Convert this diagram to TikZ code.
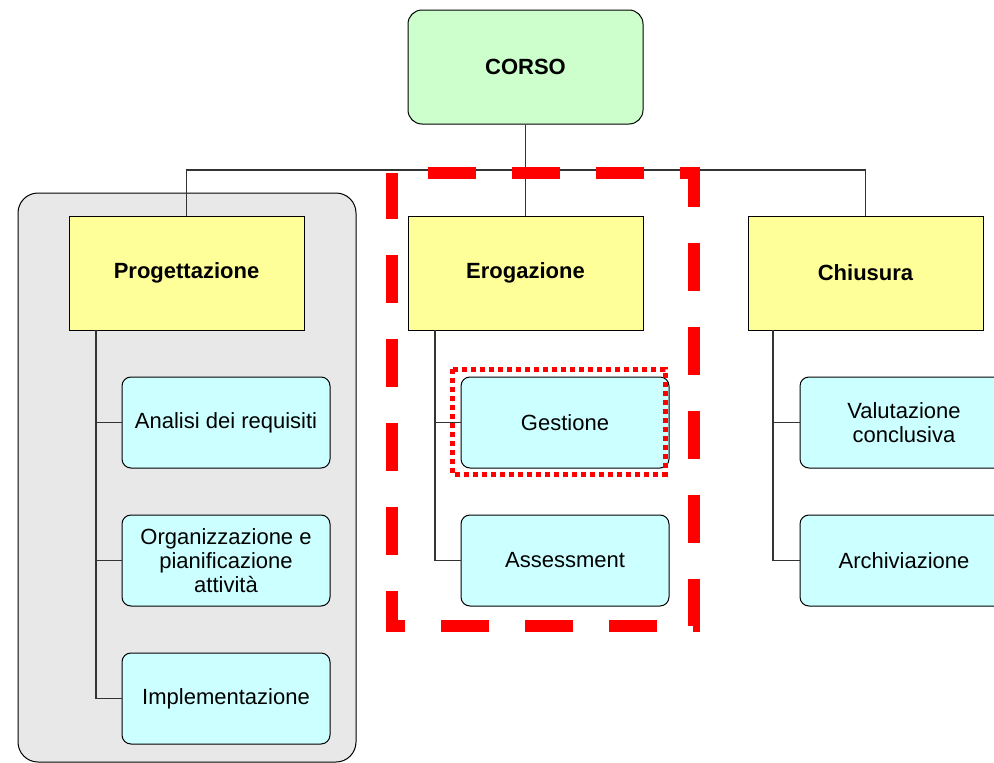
\documentclass[tikz,border=0pt]{standalone}
\usepackage{fontspec}
\setmainfont{Liberation Sans}
\definecolor{topgreen}{HTML}{CCFFCC}
\definecolor{lvlyellow}{HTML}{FFFF99}
\definecolor{leafcyan}{HTML}{CCFFFF}
\definecolor{panelgray}{HTML}{E8E8E8}
\definecolor{wire}{HTML}{333333}
\tikzset{
  topbox/.style={draw=black, line width=1pt, fill=topgreen, rounded corners=14pt, minimum width=235pt, minimum height=114pt, inner sep=0pt, font=\fontsize{22}{25}\selectfont\bfseries},
  lvlbox/.style={draw=black, line width=1pt, fill=lvlyellow, minimum width=235pt, minimum height=114pt, inner sep=0pt, font=\fontsize{22}{25}\selectfont\bfseries},
  leafbox/.style={draw=black, line width=1pt, fill=leafcyan, rounded corners=9pt, minimum width=208pt, minimum height=91pt, inner sep=0pt, align=center, font=\fontsize{22}{24}\selectfont},
  panelbox/.style={draw=black, line width=1pt, fill=panelgray, rounded corners=20pt, minimum width=338pt, minimum height=569pt, inner sep=0pt},
  wireline/.style={draw=wire, line width=1.2pt},
  bigdash/.style={draw=red, line width=12pt, dash pattern=on 48pt off 36pt, dash phase=48pt, line join=miter},
  smalldot/.style={draw=red, line width=5pt, dash pattern=on 5pt off 4pt},
}
\begin{document}
\begin{tikzpicture}[x=1pt,y=-1pt]
\useasboundingbox (0,0) rectangle (994,763);
\fill[white] (0,0) rectangle (994,763);
% panel
\node[panelbox] (panel) at (187,477.5) {};
% top
\node[topbox] (corso) at (525.5,67) {CORSO};
% level 2
\node[lvlbox] (prog) at (186.5,273) {Progettazione};
\node[lvlbox] (erog) at (525.5,273) {Erogazione};
\node[lvlbox] (chiu) at (865.5,273) {Chiusura};
% leaves
\node[leafbox] (ana) at (226,422.5) {Analisi dei requisiti};
\node[leafbox] (org) at (226,560.5) {Organizzazione e\\pianificazione\\attività};
\node[leafbox] (imp) at (226,698.5) {Implementazione};
\node[leafbox] (ges) at (565,422.5) {Gestione};
\node[leafbox] (ass) at (565,560.5) {Assessment};
\node[leafbox] (val) at (904,422.5) {Valutazione\\conclusiva};
\node[leafbox] (arc) at (904,560.5) {Archiviazione};
% connectors
\coordinate (bus) at (525.5,170);
\draw[wireline] (corso.south) -- (erog.north);
\draw[wireline] (prog.north) -- (prog.north |- bus) -- (chiu.north |- bus) -- (chiu.north);
\coordinate (spineP) at (96,330);
\coordinate (spineE) at (435,330);
\coordinate (spineC) at (773,330);
\draw[wireline] (spineP) |- (ana.west);
\draw[wireline] (spineP) |- (org.west);
\draw[wireline] (spineP) |- (imp.west);
\draw[wireline] (spineE) |- (ges.west);
\draw[wireline] (spineE) |- (ass.west);
\draw[wireline] (spineC) |- (val.west);
\draw[wireline] (spineC) |- (arc.west);
% highlight frames
\coordinate (dA) at (392,173);
\coordinate (dB) at (694,173);
\coordinate (dC) at (694,626);
\coordinate (dD) at (392,626);
\draw[bigdash] (dA) -- (dB) -- (dC) -- (dD) -- cycle;
\coordinate (gA) at (452,369);
\coordinate (gC) at (665,474);
\draw[smalldot] (gA) rectangle (gC);
\end{tikzpicture}
\end{document}
